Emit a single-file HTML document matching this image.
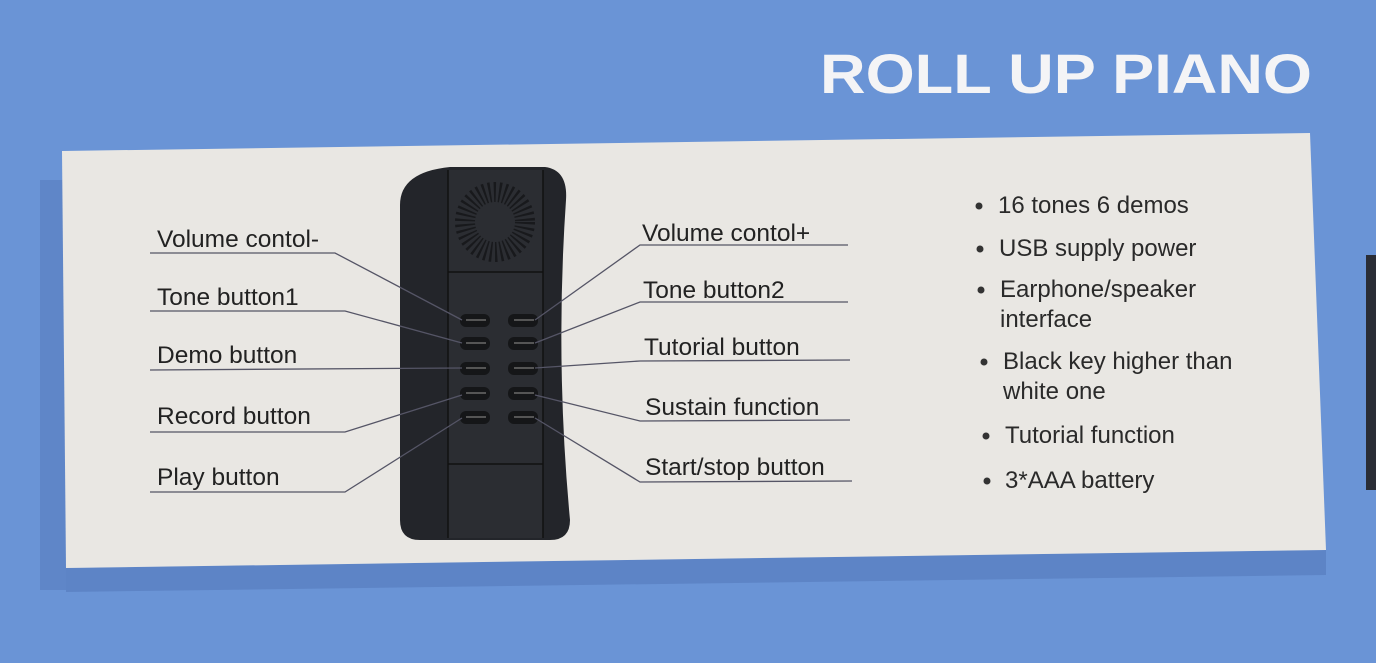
<!DOCTYPE html>
<html><head><meta charset="utf-8"><style>
html,body{margin:0;padding:0;background:#6a93d4;}
svg{display:block}
text{font-family:"Liberation Sans",sans-serif;}
</style></head><body>
<svg width="1376" height="663" viewBox="0 0 1376 663" xmlns="http://www.w3.org/2000/svg">
<rect width="1376" height="663" fill="#6a94d6"/>
<polygon points="40,180 66,180 66,590 40,590" fill="#5f86c8"/>
<polygon points="66,568 1326,550 1326,575 66,592" fill="#5d84c6"/>
<rect x="1366" y="255" width="10" height="235" fill="#2a2d36"/>
<text x="820" y="93" font-size="56" font-weight="bold" fill="#f4f4f6" textLength="492" lengthAdjust="spacingAndGlyphs">ROLL UP PIANO</text>
<polygon points="62,151 1310,133 1326,550 66,568" fill="#e9e7e3"/>
<!-- device -->
<path d="M400,205 Q400,172 450,167 L545,167 Q568,170 566,200 Q555,360 570,520 Q570,540 550,540 L420,540 Q400,540 400,520 Z" fill="#23252a"/>
<rect x="448" y="170" width="95" height="368" fill="#2b2d32"/>
<line x1="448" y1="170" x2="448" y2="538" stroke="#111" stroke-width="1.5"/>
<line x1="543" y1="170" x2="543" y2="538" stroke="#111" stroke-width="1.5"/>
<line x1="448" y1="272" x2="543" y2="272" stroke="#111" stroke-width="1.5"/>
<line x1="448" y1="464" x2="543" y2="464" stroke="#111" stroke-width="1.5"/>
<circle cx="495" cy="222" r="30" fill="none" stroke="#18191c" stroke-dasharray="2 3" stroke-width="20"/>
<g fill="#151618">
<rect x="460" y="314" width="30" height="13" rx="6"/><rect x="508" y="314" width="30" height="13" rx="6"/>
<rect x="460" y="337" width="30" height="13" rx="6"/><rect x="508" y="337" width="30" height="13" rx="6"/>
<rect x="460" y="362" width="30" height="13" rx="6"/><rect x="508" y="362" width="30" height="13" rx="6"/>
<rect x="460" y="387" width="30" height="13" rx="6"/><rect x="508" y="387" width="30" height="13" rx="6"/>
<rect x="460" y="411" width="30" height="13" rx="6"/><rect x="508" y="411" width="30" height="13" rx="6"/>
</g>
<g stroke="#555" stroke-width="2"><line x1="466" y1="320" x2="486" y2="320"/><line x1="514" y1="320" x2="534" y2="320"/>
<line x1="466" y1="343" x2="486" y2="343"/><line x1="514" y1="343" x2="534" y2="343"/>
<line x1="466" y1="368" x2="486" y2="368"/><line x1="514" y1="368" x2="534" y2="368"/>
<line x1="466" y1="393" x2="486" y2="393"/><line x1="514" y1="393" x2="534" y2="393"/>
<line x1="466" y1="417" x2="486" y2="417"/><line x1="514" y1="417" x2="534" y2="417"/></g>
<!-- leaders -->
<g stroke="#556" stroke-width="1.3" fill="none">
<polyline points="150,253 335,253 462,320"/>
<polyline points="150,311 345,311 462,343"/>
<polyline points="150,370 462,368"/>
<polyline points="150,432 345,432 462,395"/>
<polyline points="150,492 345,492 462,418"/>
<polyline points="535,320 640,245 848,245"/>
<polyline points="535,343 640,302 848,302"/>
<polyline points="535,368 640,361 850,360"/>
<polyline points="535,395 640,421 850,420"/>
<polyline points="535,418 640,482 852,481"/>
</g>
<g font-size="24.5" fill="#222">
<text x="157" y="247">Volume contol-</text>
<text x="157" y="305">Tone  button1</text>
<text x="157" y="363">Demo button</text>
<text x="157" y="424">Record button</text>
<text x="157" y="485">Play button</text>
<text x="642" y="241">Volume contol+</text>
<text x="643" y="298">Tone  button2</text>
<text x="644" y="355">Tutorial button</text>
<text x="645" y="415">Sustain function</text>
<text x="645" y="475">Start/stop button</text>
</g>
<g fill="#333">
<circle cx="979" cy="206" r="3.5"/><circle cx="980" cy="249" r="3.5"/><circle cx="981" cy="290" r="3.5"/>
<circle cx="984" cy="362" r="3.5"/><circle cx="986" cy="436" r="3.5"/><circle cx="987" cy="481" r="3.5"/>
</g>
<g font-size="24" fill="#2a2a2a">
<text x="998" y="213">16 tones  6 demos</text>
<text x="999" y="256">USB supply power</text>
<text x="1000" y="297">Earphone/speaker</text>
<text x="1000" y="327">interface</text>
<text x="1003" y="369">Black key higher than</text>
<text x="1003" y="399">white one</text>
<text x="1005" y="443">Tutorial function</text>
<text x="1005" y="488">3*AAA battery</text>
</g>
</svg>
</body></html>
